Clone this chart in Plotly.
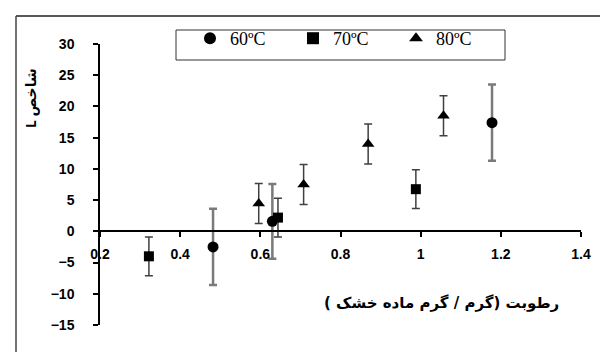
import plotly.graph_objects as go

# ---- data ----
x60 = [0.482, 0.630, 1.178]
y60 = [-2.5, 1.6, 17.4]
e60 = [6.1, 6.0, 6.1]

x70 = [0.322, 0.644, 0.988]
y70 = [-4.0, 2.2, 6.75]
e70 = [3.1, 3.1, 3.1]

x80 = [0.596, 0.708, 0.869, 1.057]
y80 = [4.45, 7.5, 14.0, 18.5]
e80 = [3.2, 3.2, 3.2, 3.2]

names = ["60ºC", "70ºC", "80ºC"]
xticks = [0.2, 0.4, 0.6, 0.8, 1.0, 1.2, 1.4]
xticklabels = ["0.2", "0.4", "0.6", "0.8", "1", "1.2", "1.4"]
yticks = [-15, -10, -5, 0, 5, 10, 15, 20, 25, 30]

x_title = "رطوبت (گرم / گرم ماده خشک )"
y_title = "شاخص L"

fig = go.Figure()

fig.add_trace(go.Scatter(
    x=x60, y=y60, mode="markers", name=names[0],
    marker=dict(symbol="circle", size=11, color="black"),
    error_y=dict(type="data", array=e60, visible=True, color="#7a7a7a", thickness=2.5, width=4),
))
fig.add_trace(go.Scatter(
    x=x70, y=y70, mode="markers", name=names[1],
    marker=dict(symbol="square", size=10, color="black"),
    error_y=dict(type="data", array=e70, visible=True, color="#404040", thickness=1.5, width=4),
))
fig.add_trace(go.Scatter(
    x=x80, y=y80, mode="markers", name=names[2],
    marker=dict(symbol="triangle-up", size=11, color="black"),
    error_y=dict(type="data", array=e80, visible=True, color="#404040", thickness=1.5, width=4),
))

L, R, T, B = 92, 35, 36, 35
W, H = 608, 352
pw, ph = W - L - R, H - T - B

def px(xp):
    return (xp - L) / pw

def py(yp):
    return (H - B - yp) / ph

tickfont = dict(family="Liberation Sans, Arial, sans-serif", size=14, color="black", weight="bold")

fig.update_layout(
    width=W, height=H,
    margin=dict(l=L, r=R, t=T, b=B),
    paper_bgcolor="white", plot_bgcolor="white",
    showlegend=True,
    legend=dict(
        orientation="h", x=px(182), y=py(12), xanchor="left", yanchor="top",
        borderwidth=0, bgcolor="rgba(0,0,0,0)",
        font=dict(family="Liberation Serif, Times New Roman, serif", size=18, color="black"),
        entrywidth=58, entrywidthmode="pixels", itemsizing="constant",
    ),
    xaxis=dict(
        range=[0.2, 1.4], tickvals=xticks, ticktext=xticklabels,
        showgrid=False, zeroline=False, showline=True, linecolor="black", linewidth=1.5,
        ticks="outside", ticklen=5, tickcolor="black", tickwidth=1.5,
        anchor="free", position=1/3, tickfont=tickfont, ticklabelstandoff=5,
    ),
    yaxis=dict(
        range=[-15, 30], tickvals=yticks,
        showgrid=False, zeroline=False, showline=True, linecolor="black", linewidth=1.5,
        ticks="outside", ticklen=5, tickcolor="black", tickwidth=1.5,
        tickfont=tickfont, ticklabelstandoff=16,
    ),
    annotations=[
        dict(text=x_title, xref="paper", yref="paper", x=px(433), y=py(295),
             showarrow=False, font=dict(family="DejaVu Sans, Noto Sans, sans-serif", size=15, color="black", weight="bold"),
             xanchor="center", yanchor="middle"),
        dict(text="\u202b" + y_title + "\u202c", xref="paper", yref="paper", x=px(22), y=py(90),
             showarrow=False, textangle=-90, font=dict(family="Noto Sans, DejaVu Sans, sans-serif", size=14, color="black", weight="bold"),
             xanchor="center", yanchor="middle"),
    ],
    shapes=[
        dict(type="line", xref="paper", yref="paper", x0=px(8), x1=px(620), y0=py(8), y1=py(8),
             line=dict(color="#222", width=1.5)),
        dict(type="line", xref="paper", yref="paper", x0=px(8), x1=px(8), y0=py(8), y1=py(360),
             line=dict(color="#444", width=1.5)),
        dict(type="rect", xref="paper", yref="paper", x0=px(168), x1=px(497), y0=py(22), y1=py(52),
             line=dict(color="#333", width=1), layer="below"),
    ],
)

fig.write_html("out.html")
